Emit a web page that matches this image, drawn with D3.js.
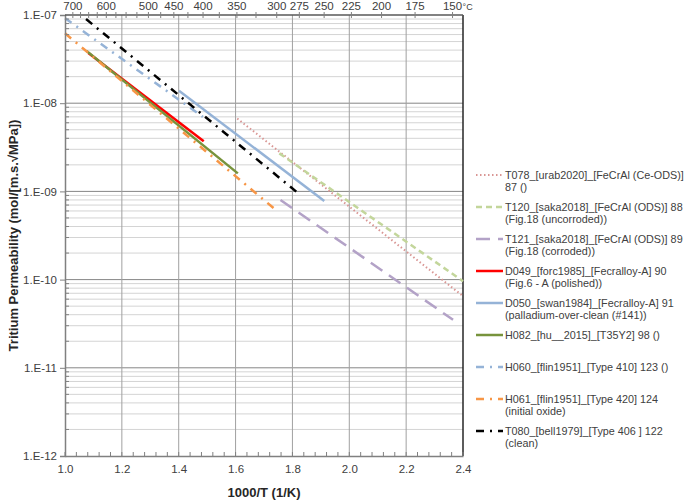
<!DOCTYPE html>
<html>
<head>
<meta charset="utf-8">
<script src="https://cdn.jsdelivr.net/npm/d3@7"></script>
<style>
    body { margin: 0; background: #fff; }
    svg { font-family: 'Liberation Sans', Arial, sans-serif; }
</style>
</head>
<body>
<svg id="chart" width="685" height="502"></svg>
<script>
// series end points, [1000/T, permeability]
const t078 = [[1.606, 6.7e-9], [2.4, 6.5e-11]];
const t120 = [[1.754, 2.7e-9], [2.4, 9.6e-11]];
const t121 = [[1.758, 8.0e-10], [2.365, 3.5e-11]];
const d049 = [[1.082, 3.7e-8], [1.488, 3.7e-9]];
const d050 = [[1.401, 1.38e-8], [1.912, 7.8e-10]];
const h082 = [[1.076, 3.9e-8], [1.608, 1.6e-9]];
const h060 = [[1.0, 9.2e-8], [1.485, 7.0e-9]];
const h061 = [[1.0, 6.2e-8], [1.746, 6.0e-10]];
const t080 = [[1.074, 9.0e-8], [1.821, 9.5e-10]];

const legendLabels = [
    ['T078_[urab2020]_[FeCrAl (Ce-ODS)]', '87 ()'],
    ['T120_[saka2018]_[FeCrAl (ODS)] 88', '(Fig.18 (uncorroded))'],
    ['T121_[saka2018]_[FeCrAl (ODS)] 89', '(Fig.18 (corroded))'],
    ['D049_[forc1985]_[Fecralloy-A] 90', '(Fig.6 - A (polished))'],
    ['D050_[swan1984]_[Fecralloy-A] 91', '(palladium-over-clean (#141))'],
    ['H082_[hu__2015]_[T35Y2] 98 ()'],
    ['H060_[flin1951]_[Type 410] 123 ()'],
    ['H061_[flin1951]_[Type 420] 124', '(initial oxide)'],
    ['T080_[bell1979]_[Type 406 ] 122', '(clean)']
];

const xTicks = [1.0, 1.2, 1.4, 1.6, 1.8, 2.0, 2.2, 2.4];
const yTicks = [1e-12, 1e-11, 1e-10, 1e-9, 1e-8, 1e-7];
const yTickLabels = ['1.E-12', '1.E-11', '1.E-10', '1.E-09', '1.E-08', '1.E-07'];
const celsiusTicks = [700, 675, 650, 625, 600, 575, 550, 525, 500, 475, 450, 425, 400, 375, 350, 325, 300, 275, 250, 225, 200, 175, 150];
const celsiusLabels = [700, 600, 500, 450, 400, 350, 300, 275, 250, 225, 200, 175, 150];

const series = [
    { data: t078, color: '#D99694', width: 2, dash: '1.5,2.5' },
    { data: t120, color: '#C3D69B', width: 2.5, dash: '6,4' },
    { data: t121, color: '#B3A2C7', width: 2.5, dash: '14,8' },
    { data: d049, color: '#FF0000', width: 2.5, dash: null },
    { data: d050, color: '#95B3D7', width: 2.5, dash: null },
    { data: h082, color: '#77933C', width: 2.5, dash: null },
    { data: h060, color: '#95B3D7', width: 2.5, dash: '8,6,2,6' },
    { data: h061, color: '#F79646', width: 2.5, dash: '8,6,2,6' },
    { data: t080, color: '#000000', width: 2.5, dash: '8,6,2,6' }
];

const svg = d3.select('#chart');
const plotLeft = 65, plotRight = 463, plotTop = 15, plotBottom = 456;

const x = d3.scaleLinear().domain([1.0, 2.4]).range([plotLeft, plotRight]);
const y = d3.scaleLog().domain([1e-12, 1e-7]).range([plotBottom, plotTop]);

// minor horizontal grid
const minorY = [];
for (let e = -12; e < -7; e++) {
    for (let m = 2; m <= 9; m++) minorY.push(m * Math.pow(10, e));
}
svg.append('g')
    .selectAll('line')
    .data(minorY)
    .enter()
    .append('line')
    .attr('x1', plotLeft).attr('x2', plotRight)
    .attr('y1', d => y(d)).attr('y2', d => y(d))
    .attr('stroke', '#d4d4d4')
    .attr('stroke-width', 1);

// major grid
svg.append('g')
    .selectAll('line')
    .data(yTicks.slice(1, -1))
    .enter()
    .append('line')
    .attr('x1', plotLeft).attr('x2', plotRight)
    .attr('y1', d => y(d)).attr('y2', d => y(d))
    .attr('stroke', '#868686')
    .attr('stroke-width', 1);

svg.append('g')
    .selectAll('line')
    .data(xTicks.slice(1, -1))
    .enter()
    .append('line')
    .attr('x1', d => x(d)).attr('x2', d => x(d))
    .attr('y1', plotTop).attr('y2', plotBottom)
    .attr('stroke', '#a0a0a0')
    .attr('stroke-width', 1);

// right border
svg.append('line')
    .attr('x1', plotRight).attr('x2', plotRight)
    .attr('y1', plotTop).attr('y2', plotBottom)
    .attr('stroke', '#262626')
    .attr('stroke-width', 1.5);

// series lines
const lineGen = d3.line()
    .x(d => x(d[0]))
    .y(d => y(d[1]));

series.forEach(s => {
    svg.append('path')
        .attr('d', lineGen(s.data))
        .attr('fill', 'none')
        .attr('stroke', s.color)
        .attr('stroke-width', s.width)
        .attr('stroke-dasharray', s.dash);
});

// bottom axis
const minorX = d3.range(0, 36).map(i => 1.0 + i * 0.04);
svg.append('g')
    .selectAll('line')
    .data(minorX)
    .enter()
    .append('line')
    .attr('x1', d => x(d)).attr('x2', d => x(d))
    .attr('y1', plotBottom).attr('y2', plotBottom - 4)
    .attr('stroke', '#808080');

svg.append('g')
    .attr('transform', 'translate(0,' + plotBottom + ')')
    .call(d3.axisBottom(x).tickValues(xTicks).tickFormat(d3.format('.1f')).tickSize(0).tickPadding(9))
    .call(g => g.select('.domain').attr('stroke', '#808080').attr('stroke-width', 1.5))
    .call(g => g.selectAll('text').style('font-size', '11.5px').attr('fill', '#404040'));

// left axis
svg.append('g')
    .selectAll('line')
    .data(minorY)
    .enter()
    .append('line')
    .attr('x1', plotLeft).attr('x2', plotLeft + 4)
    .attr('y1', d => y(d)).attr('y2', d => y(d))
    .attr('stroke', '#808080');

svg.append('g')
    .attr('transform', 'translate(' + plotLeft + ',0)')
    .call(d3.axisLeft(y).tickValues(yTicks).tickFormat((d, i) => yTickLabels[i]).tickSize(5).tickPadding(3))
    .call(g => g.select('.domain').attr('stroke', '#808080').attr('stroke-width', 1.5))
    .call(g => g.selectAll('.tick line').attr('stroke', '#808080'))
    .call(g => g.selectAll('text').style('font-size', '11.5px').attr('fill', '#404040'));

// top axis in degrees C
const topAxis = svg.append('g');
topAxis.append('line')
    .attr('x1', plotLeft).attr('x2', plotRight)
    .attr('y1', plotTop).attr('y2', plotTop)
    .attr('stroke', '#595959')
    .attr('stroke-width', 1.5);
topAxis.selectAll('.ctick')
    .data(celsiusTicks)
    .enter()
    .append('line')
    .attr('x1', d => x(1000 / (d + 273.15))).attr('x2', d => x(1000 / (d + 273.15)))
    .attr('y1', plotTop - 3).attr('y2', plotTop + 3)
    .attr('stroke', '#808080');
topAxis.selectAll('.clabel')
    .data(celsiusLabels)
    .enter()
    .append('text')
    .attr('x', d => x(1000 / (d + 273.15)))
    .attr('y', 10)
    .attr('text-anchor', 'middle')
    .style('font-size', '11.5px')
    .attr('fill', '#404040')
    .text(d => d);
topAxis.append('text')
    .attr('x', x(1000 / (150 + 273.15)) + 10)
    .attr('y', 10)
    .style('font-size', '9px')
    .attr('fill', '#404040')
    .text('°C');

// axis titles
svg.append('text')
    .attr('x', (plotLeft + plotRight) / 2)
    .attr('y', 497)
    .attr('text-anchor', 'middle')
    .style('font-size', '13px')
    .style('font-weight', 'bold')
    .attr('fill', '#262626')
    .text('1000/T (1/K)');

svg.append('text')
    .attr('transform', 'translate(18,' + ((plotTop + plotBottom) / 2) + ') rotate(-90)')
    .attr('text-anchor', 'middle')
    .style('font-size', '13px')
    .style('font-weight', 'bold')
    .attr('fill', '#262626')
    .text('Tritium Permeability (mol/[m.s.√MPa])');

// legend
const legend = svg.append('g');
series.forEach((s, i) => {
    const ly = 175 + i * 32;
    legend.append('line')
        .attr('x1', 476).attr('x2', 503)
        .attr('y1', ly).attr('y2', ly)
        .attr('stroke', s.color)
        .attr('stroke-width', s.width)
        .attr('stroke-dasharray', s.dash);
    legendLabels[i].forEach((txt, j) => {
        legend.append('text')
            .attr('x', 505)
            .attr('y', ly + j * 12.5)
            .attr('dy', '0.35em')
            .style('font-size', '10.8px')
            .attr('fill', '#404040')
            .text(txt);
    });
});
</script>
</body>
</html>
